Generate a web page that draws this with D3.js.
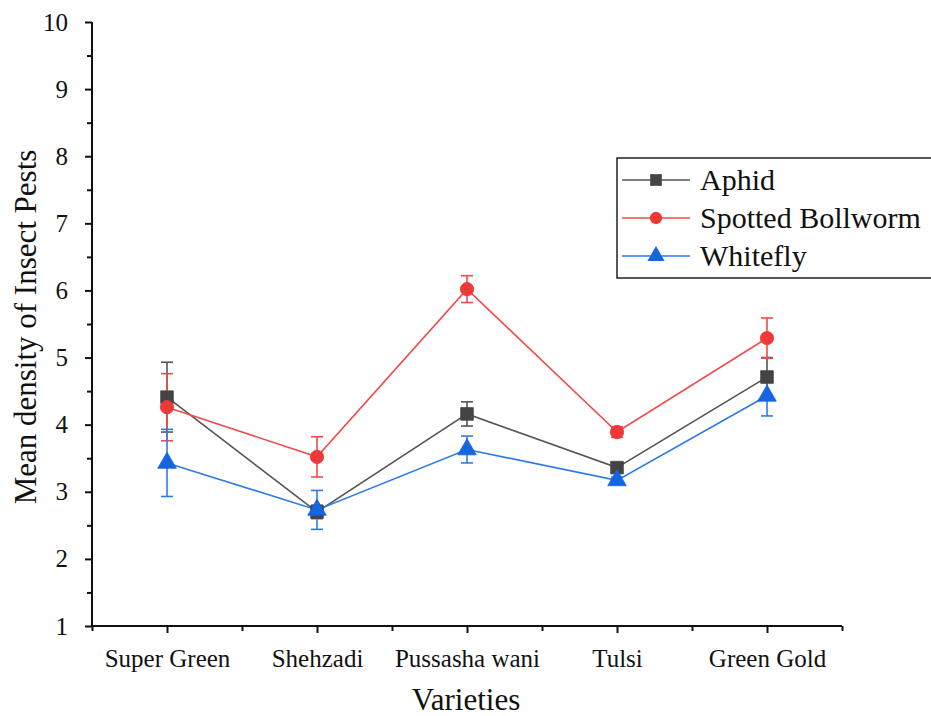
<!DOCTYPE html>
<html>
<head>
<meta charset="utf-8">
<script src="https://cdn.jsdelivr.net/npm/d3@7"></script>
<style>
  html, body { margin: 0; padding: 0; background: #fff; }
  svg { display: block; }
  text { font-family: "Liberation Serif", "Times New Roman", serif; fill: #111; }
</style>
</head>
<body>
<svg id="chart" width="931" height="716"></svg>
<script>
// Mean density of insect pests on five varieties (mean ± error)
const varieties = ["Super Green", "Shehzadi", "Pussasha wani", "Tulsi", "Green Gold"];
const aphid      = [4.41, 2.70, 4.16, 3.36, 4.71];
const aphidErr   = [0.52, 0.10, 0.18, 0.06, 0.29];
const bollworm    = [4.26, 3.52, 6.02, 3.89, 5.29];
const bollwormErr = [0.50, 0.30, 0.20, 0.08, 0.30];
const whitefly    = [3.43, 2.73, 3.63, 3.17, 4.43];
const whiteflyErr = [0.50, 0.29, 0.20, 0.05, 0.30];
const yTicks = [1, 2, 3, 4, 5, 6, 7, 8, 9, 10];

const series = [
  { name: "Aphid", values: aphid, errs: aphidErr, line: "#555555", fill: "#444444", shape: d3.symbolSquare, size: 160 },
  { name: "Spotted Bollworm", values: bollworm, errs: bollwormErr, line: "#f24a4a", fill: "#ef3838", shape: d3.symbolCircle, size: 140 },
  { name: "Whitefly", values: whitefly, errs: whiteflyErr, line: "#2f7be6", fill: "#1565e0", shape: d3.symbolTriangle, size: 150 }
];

const svg = d3.select("#chart");
const plotLeft = 92, plotRight = 842, plotTop = 22, plotBottom = 626;

const x = d3.scaleLinear().domain([0.5, 5.5]).range([plotLeft, plotRight]);
const y = d3.scaleLinear().domain([1, 10]).range([plotBottom, plotTop]);

// axes
const xMajor = d3.axisBottom(x).tickValues(d3.range(1, 6)).tickSize(7)
  .tickFormat(d => varieties[d - 1]);
const xMinor = d3.axisBottom(x).tickValues(d3.range(0.5, 6, 1)).tickSize(5).tickFormat("");
const yMajor = d3.axisLeft(y).tickValues(yTicks).tickSize(7);
const yMinor = d3.axisLeft(y).tickValues(d3.range(1.5, 10, 1)).tickSize(5).tickFormat("");

function styleAxis(g) {
  g.select(".domain").attr("stroke", "#111").attr("stroke-width", 2);
  g.selectAll(".tick line").attr("stroke", "#111").attr("stroke-width", 2);
}

const gxm = svg.append("g").attr("transform", `translate(0,${plotBottom})`).call(xMinor).call(styleAxis);
const gx = svg.append("g").attr("transform", `translate(0,${plotBottom})`).call(xMajor).call(styleAxis);
gx.selectAll(".tick text").attr("font-size", 25).attr("y", 41).attr("dy", 0)
  .style("font-family", "Liberation Serif, serif").attr("fill", "#111");
gx.select(".domain").attr("d", `M${plotLeft},0H${plotRight}`);
gxm.select(".domain").remove();

const gym = svg.append("g").attr("transform", `translate(${plotLeft},0)`).call(yMinor).call(styleAxis);
const gy = svg.append("g").attr("transform", `translate(${plotLeft},0)`).call(yMajor).call(styleAxis);
gy.selectAll(".tick text").attr("font-size", 25).attr("x", -24)
  .style("font-family", "Liberation Serif, serif").attr("fill", "#111");
gy.select(".domain").attr("d", `M0,${plotBottom}V${plotTop}`);
gym.select(".domain").remove();

// axis titles
svg.append("text").attr("x", 466).attr("y", 710)
  .attr("text-anchor", "middle").attr("font-size", 31).text("Varieties");
svg.append("text").attr("transform", `translate(36,327) rotate(-90)`)
  .attr("text-anchor", "middle").attr("font-size", 31).text("Mean density of Insect Pests");

// series: lines, error bars, markers
const line = d3.line().x((d, i) => x(i + 1)).y(d => y(d));
const cap = 6;

series.forEach(s => {
  svg.append("path").datum(s.values).attr("d", line)
    .attr("fill", "none").attr("stroke", s.line).attr("stroke-width", 1.6);
});

series.forEach(s => {
  const g = svg.append("g").attr("stroke", s.line).attr("stroke-width", 1.6);
  s.values.forEach((v, i) => {
    const cx = x(i + 1), y0 = y(v + s.errs[i]), y1 = y(v - s.errs[i]);
    g.append("line").attr("x1", cx).attr("x2", cx).attr("y1", y0).attr("y2", y1);
    g.append("line").attr("x1", cx - cap).attr("x2", cx + cap).attr("y1", y0).attr("y2", y0);
    g.append("line").attr("x1", cx - cap).attr("x2", cx + cap).attr("y1", y1).attr("y2", y1);
  });
});

series.forEach(s => {
  const sym = d3.symbol().type(s.shape).size(s.size);
  svg.append("g").selectAll("path").data(s.values).join("path")
    .attr("d", sym)
    .attr("transform", (d, i) => `translate(${x(i + 1)},${y(d)})`)
    .attr("fill", s.fill).attr("stroke", s.fill).attr("stroke-width", 0.8);
});

// legend
const lg = svg.append("g");
lg.append("rect").attr("x", 617).attr("y", 158).attr("width", 330).attr("height", 120)
  .attr("fill", "#fff").attr("stroke", "#222").attr("stroke-width", 1.5);
series.forEach((s, i) => {
  const ly = 180 + i * 38;
  lg.append("line").attr("x1", 622).attr("x2", 690).attr("y1", ly).attr("y2", ly)
    .attr("stroke", s.line).attr("stroke-width", 1.6);
  lg.append("path").attr("d", d3.symbol().type(s.shape).size(s.size * 0.85)())
    .attr("transform", `translate(656,${ly})`).attr("fill", s.fill);
  lg.append("text").attr("x", 700).attr("y", ly + 10).attr("font-size", 30).text(s.name);
});
</script>
</body>
</html>
